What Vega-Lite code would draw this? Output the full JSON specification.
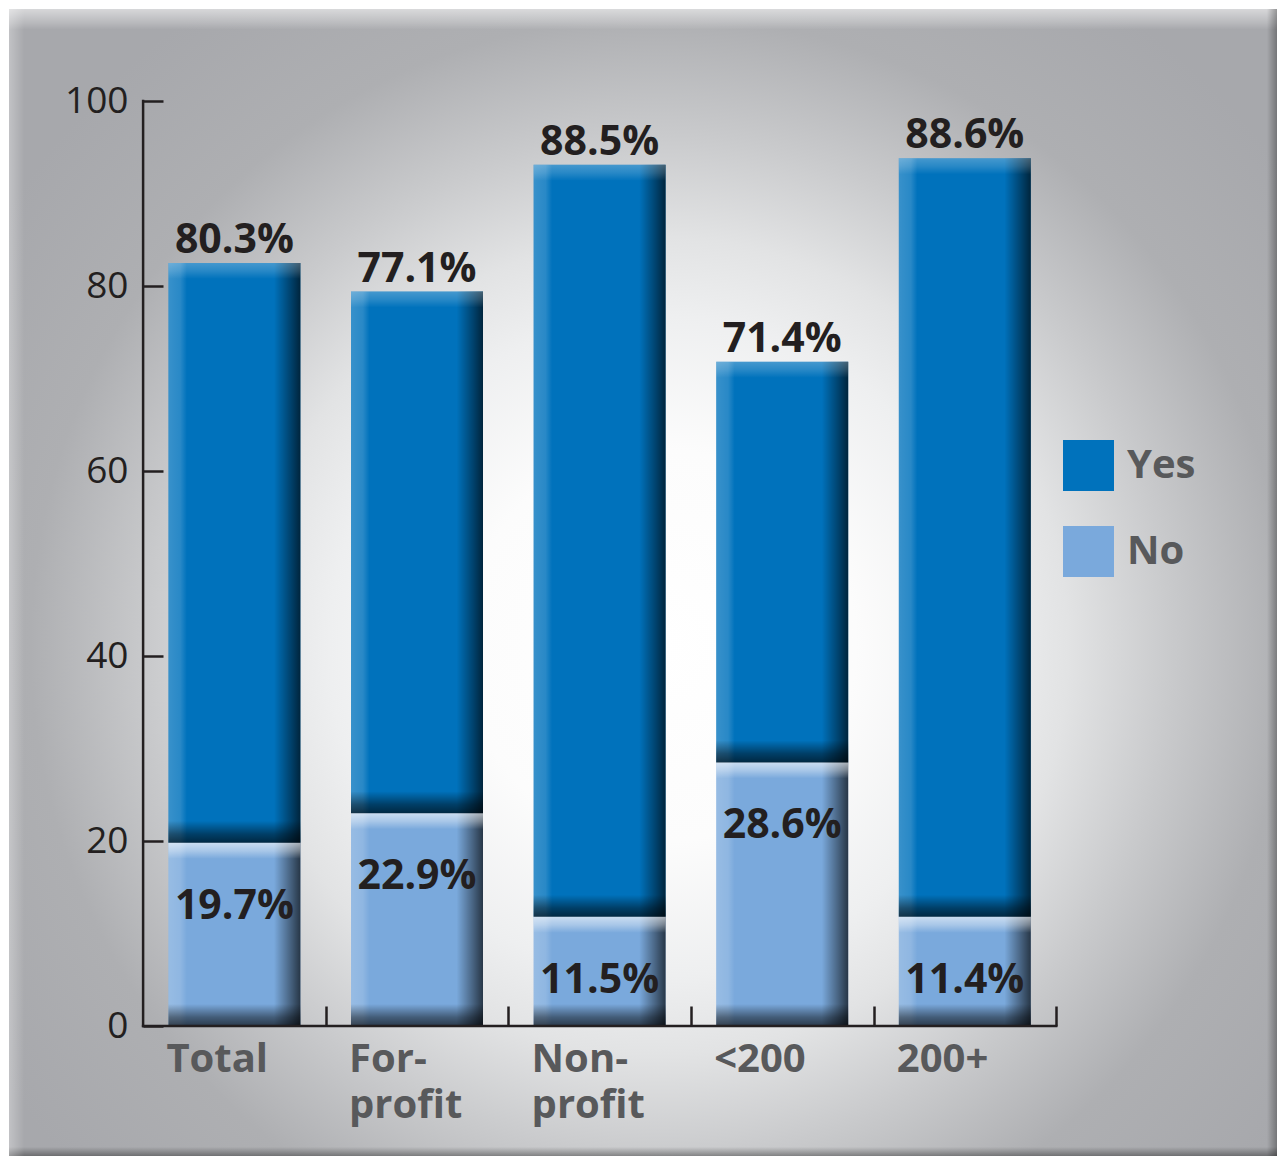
{
  "$schema": "https://vega.github.io/schema/vega-lite/v6.json",
  "width": 1268,
  "height": 1147,
  "autosize": {"type": "none"},
  "padding": {"left": 9, "top": 9, "right": 0, "bottom": 0},
  "background": "white",
  "config": {"view": {"stroke": null}, "font": "Open Sans"},
  "data": {"values": [
    {"cat": "Total", "i": 0, "series": "Yes", "lo": 19.8, "hi": 82.5, "label": "80.3%"},
    {"cat": "Total", "i": 0, "series": "No", "lo": 0, "hi": 19.8, "label": "19.7%"},
    {"cat": "For-profit", "i": 1, "series": "Yes", "lo": 23.0, "hi": 79.4, "label": "77.1%"},
    {"cat": "For-profit", "i": 1, "series": "No", "lo": 0, "hi": 23.0, "label": "22.9%"},
    {"cat": "Non-profit", "i": 2, "series": "Yes", "lo": 11.8, "hi": 93.1, "label": "88.5%"},
    {"cat": "Non-profit", "i": 2, "series": "No", "lo": 0, "hi": 11.8, "label": "11.5%"},
    {"cat": "<200", "i": 3, "series": "Yes", "lo": 28.5, "hi": 71.8, "label": "71.4%"},
    {"cat": "<200", "i": 3, "series": "No", "lo": 0, "hi": 28.5, "label": "28.6%"},
    {"cat": "200+", "i": 4, "series": "Yes", "lo": 11.8, "hi": 93.8, "label": "88.6%"},
    {"cat": "200+", "i": 4, "series": "No", "lo": 0, "hi": 11.8, "label": "11.4%"}
  ]},
  "layer": [
    {
      "data": {"values": [{}]},
      "mark": {"type": "rect", "fill": {"gradient": "radial", "x1": 0.513, "y1": 0.55, "r1": 0, "x2": 0.513, "y2": 0.55, "r2": 0.62,
        "stops": [
          {"offset": 0, "color": "#ffffff"},
          {"offset": 0.25, "color": "#fcfcfc"},
          {"offset": 0.42, "color": "#eeeff0"},
          {"offset": 0.52, "color": "#e2e3e4"},
          {"offset": 0.65, "color": "#c9cacc"},
          {"offset": 0.8, "color": "#aeafb2"},
          {"offset": 1, "color": "#a7a8ac"}
        ]}},
      "encoding": {}
    },
    {
      "data": {"values": [{}]},
      "mark": {"type": "rect", "fill": {"gradient": "linear", "x1": 0, "y1": 0, "x2": 0, "y2": 1,
        "stops": [
          {"offset": 0, "color": "rgba(255,255,255,0.55)"},
          {"offset": 0.012, "color": "rgba(255,255,255,0.2)"},
          {"offset": 0.018, "color": "rgba(255,255,255,0)"},
          {"offset": 0.992, "color": "rgba(0,0,0,0)"},
          {"offset": 1, "color": "rgba(0,0,0,0.35)"}
        ]}},
      "encoding": {}
    },
    {
      "data": {"values": [{}]},
      "mark": {"type": "rect", "fill": {"gradient": "linear", "x1": 0, "y1": 0, "x2": 1, "y2": 0,
        "stops": [
          {"offset": 0, "color": "rgba(255,255,255,0.3)"},
          {"offset": 0.012, "color": "rgba(255,255,255,0)"},
          {"offset": 0.992, "color": "rgba(0,0,0,0)"},
          {"offset": 1, "color": "rgba(0,0,0,0.3)"}
        ]}},
      "encoding": {}
    },
    {
      "mark": {"type": "bar", "width": 132},
      "encoding": {
        "x": {"field": "i", "type": "quantitative", "scale": {"domain": [-1.2344, 5.7097], "nice": false, "zero": false, "padding": 0},
          "axis": {"values": [0.5, 1.5, 2.5, 3.5, 4.5], "orient": "bottom", "offset": -130, "domain": false, "grid": false, "labels": false, "tickSize": -20, "tickWidth": 2.5, "tickColor": "#231f20", "title": null, "zindex": 2}},
        "y": {"field": "hi", "type": "quantitative", "scale": {"domain": [-14.054, 109.946], "nice": false, "zero": false, "padding": 0},
          "axis": {"values": [0, 20, 40, 60, 80, 100], "orient": "left", "offset": -134, "domain": false, "grid": false, "tickSize": -20, "tickWidth": 2.5, "tickColor": "#231f20", "labelPadding": 35, "labelFontSize": 37, "labelColor": "#231f20", "labelFont": "Open Sans", "labelFlush": false, "labelOverlap": false, "title": null, "zindex": 2}},
        "y2": {"field": "lo"},
        "color": {"field": "series", "type": "nominal", "scale": {"domain": ["Yes", "No"], "range": ["#0072bc", "#7aa9dc"]},
          "legend": {"orient": "none", "legendX": 1054, "legendY": 431, "title": null, "symbolType": "square", "symbolSize": 2601, "symbolStrokeWidth": 0, "symbolOpacity": 1, "labelFont": "Open Sans", "labelFontWeight": "bold", "labelFontSize": 40, "labelColor": "#58595b", "labelOffset": 13, "rowPadding": 35, "padding": 0, "zindex": 2}}
      }
    },
    {
      "mark": {"type": "bar", "width": 132, "fill": {"gradient": "linear", "x1": 0, "y1": 0, "x2": 1, "y2": 0,
        "stops": [
          {"offset": 0, "color": "rgba(255,255,255,0.22)"},
          {"offset": 0.09, "color": "rgba(255,255,255,0.16)"},
          {"offset": 0.14, "color": "rgba(255,255,255,0)"},
          {"offset": 0.8, "color": "rgba(0,0,0,0)"},
          {"offset": 0.92, "color": "rgba(0,0,0,0.4)"},
          {"offset": 1, "color": "rgba(0,0,0,0.68)"}
        ]}},
      "encoding": {
        "x": {"field": "i", "type": "quantitative", "title": null, "scale": {"domain": [-1.2344, 5.7097], "nice": false, "zero": false, "padding": 0}},
        "y": {"field": "hi", "type": "quantitative", "title": null, "scale": {"domain": [-14.054, 109.946], "nice": false, "zero": false, "padding": 0}},
        "y2": {"field": "lo"}
      }
    },
    {
      "mark": {"type": "bar", "width": 132, "y2Offset": 16, "fill": {"gradient": "linear", "x1": 0, "y1": 0, "x2": 0, "y2": 1,
        "stops": [
          {"offset": 0, "color": "rgba(255,255,255,0.6)"},
          {"offset": 0.5, "color": "rgba(255,255,255,0.35)"},
          {"offset": 1, "color": "rgba(255,255,255,0)"}
        ]}},
      "encoding": {
        "x": {"field": "i", "type": "quantitative", "title": null, "scale": {"domain": [-1.2344, 5.7097], "nice": false, "zero": false, "padding": 0}},
        "y": {"field": "hi", "type": "quantitative", "title": null, "scale": {"domain": [-14.054, 109.946], "nice": false, "zero": false, "padding": 0}},
        "y2": {"field": "hi"},
        "fillOpacity": {"condition": {"test": "datum.series === 'Yes'", "value": 0.45}, "value": 1}
      }
    },
    {
      "mark": {"type": "bar", "width": 132, "y2Offset": -22, "fill": {"gradient": "linear", "x1": 0, "y1": 0, "x2": 0, "y2": 1,
        "stops": [
          {"offset": 0, "color": "rgba(0,0,0,0)"},
          {"offset": 0.6, "color": "rgba(0,0,0,0.45)"},
          {"offset": 1, "color": "rgba(0,0,0,0.65)"}
        ]}},
      "encoding": {
        "x": {"field": "i", "type": "quantitative", "title": null, "scale": {"domain": [-1.2344, 5.7097], "nice": false, "zero": false, "padding": 0}},
        "y": {"field": "lo", "type": "quantitative", "title": null, "scale": {"domain": [-14.054, 109.946], "nice": false, "zero": false, "padding": 0}},
        "y2": {"field": "lo"}
      }
    },
    {
      "data": {"values": [{}]},
      "mark": {"type": "rule", "stroke": "#231f20", "strokeWidth": 2.5, "strokeCap": "square"},
      "encoding": {
        "x": {"datum": -0.5, "type": "quantitative", "title": null, "scale": {"domain": [-1.2344, 5.7097], "nice": false, "zero": false, "padding": 0}},
        "y": {"datum": 0, "type": "quantitative", "title": null, "scale": {"domain": [-14.054, 109.946], "nice": false, "zero": false, "padding": 0}},
        "y2": {"datum": 100}
      }
    },
    {
      "data": {"values": [{}]},
      "mark": {"type": "rule", "stroke": "#231f20", "strokeWidth": 2.5, "strokeCap": "square"},
      "encoding": {
        "x": {"datum": -0.5, "type": "quantitative", "title": null, "scale": {"domain": [-1.2344, 5.7097], "nice": false, "zero": false, "padding": 0}},
        "x2": {"datum": 4.5},
        "y": {"datum": 0, "type": "quantitative", "title": null, "scale": {"domain": [-14.054, 109.946], "nice": false, "zero": false, "padding": 0}}
      }
    },
    {
      "transform": [{"filter": "datum.series === 'Yes'"}],
      "mark": {"type": "text", "align": "center", "baseline": "alphabetic", "dy": -10, "fontSize": 41, "fontWeight": "bold", "font": "Open Sans", "color": "#231f20"},
      "encoding": {
        "x": {"field": "i", "type": "quantitative", "title": null, "scale": {"domain": [-1.2344, 5.7097], "nice": false, "zero": false, "padding": 0}},
        "y": {"field": "hi", "type": "quantitative", "title": null, "scale": {"domain": [-14.054, 109.946], "nice": false, "zero": false, "padding": 0}},
        "text": {"field": "label"}
      }
    },
    {
      "transform": [{"filter": "datum.series === 'No'"}],
      "mark": {"type": "text", "align": "center", "baseline": "alphabetic", "dy": 76, "fontSize": 41, "fontWeight": "bold", "font": "Open Sans", "color": "#231f20"},
      "encoding": {
        "x": {"field": "i", "type": "quantitative", "title": null, "scale": {"domain": [-1.2344, 5.7097], "nice": false, "zero": false, "padding": 0}},
        "y": {"field": "hi", "type": "quantitative", "title": null, "scale": {"domain": [-14.054, 109.946], "nice": false, "zero": false, "padding": 0}},
        "text": {"field": "label"}
      }
    },
    {
      "transform": [{"filter": "datum.series === 'Yes'"}],
      "mark": {"type": "text", "align": "left", "baseline": "top", "dx": -68, "dy": 14, "fontSize": 40, "fontWeight": "bold", "font": "Open Sans", "color": "#58595b", "lineHeight": 46, "lineBreak": {"expr": "regexp('(?<=-)')"}},
      "encoding": {
        "x": {"field": "i", "type": "quantitative", "title": null, "scale": {"domain": [-1.2344, 5.7097], "nice": false, "zero": false, "padding": 0}},
        "y": {"datum": 0, "type": "quantitative", "title": null, "scale": {"domain": [-14.054, 109.946], "nice": false, "zero": false, "padding": 0}},
        "text": {"field": "cat"}
      }
    }
  ]
}
